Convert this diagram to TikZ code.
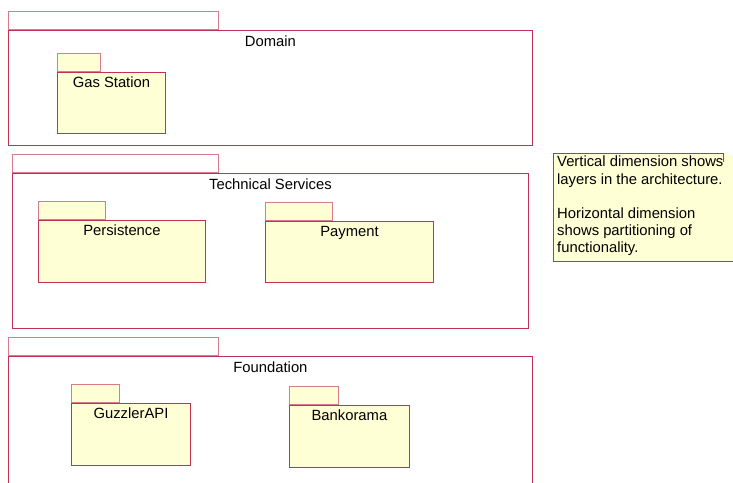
\documentclass[tikz,border=0pt]{standalone}
\usepackage{fontspec}
\setmainfont{Liberation Sans}
\usetikzlibrary{positioning}

\definecolor{pkgline}{HTML}{C2305A}
\definecolor{tabline}{HTML}{D97A90}
\definecolor{pkgfill}{HTML}{FFFFD5}

\tikzset{
    layer/.style={draw=pkgline, line width=0.9pt, inner sep=0pt, anchor=north west},
    layertab/.style={draw=tabline, line width=0.9pt, inner sep=0pt, anchor=south west, minimum height=18pt},
    pkg/.style={layer, fill=pkgfill, minimum height=62pt},
    pkgtab/.style={layertab, fill=pkgfill},
    pkgname/.style={anchor=base, inner sep=0pt, font=\fontsize{14.8}{17.2}\selectfont}
}

\begin{document}
\begin{tikzpicture}[x=1pt, y=-1pt]
            %\draw[lightgray] (0, 0) grid (733, 482);
            \useasboundingbox (0, 0) rectangle (733, 482);
            \clip (0, 0) rectangle (733, 482);

            % Domain layer
            \node[layer, minimum width=524pt, minimum height=115pt] (domain) at (8, 30) {};
            \node[layertab, minimum width=210pt] (domaintab) at (domain.north west) {};
            \node[pkgname] (domainname) at ([yshift=-16pt]domain.north) {Domain};
            \node[pkg, minimum width=108pt, minimum height=61pt] (gas) at (57, 72) {};
            \node[pkgtab, minimum width=43pt] (gastab) at (gas.north west) {};
            \node[pkgname] (gasname) at ([yshift=-15pt]gas.north) {Gas Station};

            % Technical Services layer
            \node[layer, minimum width=516pt, minimum height=155pt] (tech) at (12, 173) {};
            \node[layertab, minimum width=206pt] (techtab) at (tech.north west) {};
            \node[pkgname] (techname) at ([yshift=-16pt]tech.north) {Technical Services};
            \node[pkg, minimum width=167pt] (persist) at (38, 220) {};
            \node[pkgtab, minimum width=67pt] (persisttab) at (persist.north west) {};
            \node[pkgname] (persistname) at ([yshift=-15pt]persist.north) {Persistence};
            \node[pkg, minimum width=168pt, minimum height=61pt] (pay) at (265, 221) {};
            \node[pkgtab, minimum width=67pt] (paytab) at (pay.north west) {};
            \node[pkgname] (payname) at ([yshift=-15pt]pay.north) {Payment};

            % Foundation layer
            \node[layer, minimum width=524pt, minimum height=140pt] (found) at (8, 356) {};
            \node[layertab, minimum width=210pt] (foundtab) at (found.north west) {};
            \node[pkgname] (foundname) at ([yshift=-16pt]found.north) {Foundation};
            \node[pkg, minimum width=119pt] (guzzler) at (71, 403) {};
            \node[pkgtab, minimum width=48pt] (guzzlertab) at (guzzler.north west) {};
            \node[pkgname] (guzzlername) at ([yshift=-15pt]guzzler.north) {GuzzlerAPI};
            \node[pkg, minimum width=120pt] (bank) at (289, 405) {};
            \node[pkgtab, minimum width=49pt] (banktab) at (bank.north west) {};
            \node[pkgname] (bankname) at ([yshift=-15pt]bank.north) {Bankorama};

            % note, cut off at the right edge
            \fill[pkgfill] (553, 153) -- (723, 153) -- (740, 158) -- (740, 261) -- (553, 261) -- cycle;
            \draw[pkgline, line width=0.9pt] (740, 261) -- (553, 261) -- (553, 153) -- (723, 153) -- (723, 162);
            \node[anchor=north west, align=left, inner sep=0pt, font=\fontsize{14.8}{17.2}\selectfont] (note) at (557, 156)
                {Vertical dimension shows\\layers in the architecture.\\[17.2pt]Horizontal dimension\\shows partitioning of\\functionality.};
        \end{tikzpicture}
\end{document}
